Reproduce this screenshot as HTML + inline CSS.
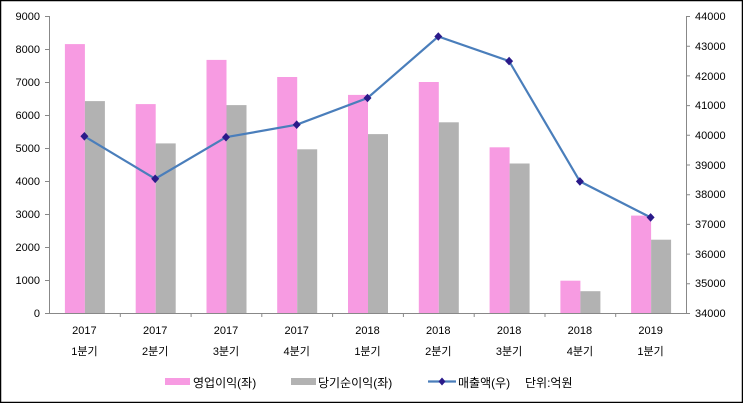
<!DOCTYPE html><html><head><meta charset="utf-8"><style>body{margin:0;background:#fff}svg{display:block}text{font-family:"Liberation Sans","Noto Sans CJK KR",sans-serif;font-size:11px;fill:#000}</style></head><body>
<svg width="743" height="403" xmlns="http://www.w3.org/2000/svg">
<rect x="0.5" y="0.5" width="742" height="402" fill="#fff" stroke="#000" stroke-width="1.5"/>
<g fill="#f79be2">
<rect x="64.9" y="44.1" width="20" height="268.9"/><rect x="135.7" y="104.1" width="20" height="208.9"/><rect x="206.5" y="59.9" width="20" height="253.1"/><rect x="277.2" y="77" width="20" height="236"/><rect x="348" y="94.9" width="20" height="218.1"/><rect x="418.8" y="82" width="20" height="231"/><rect x="489.6" y="147.3" width="20" height="165.7"/><rect x="560.4" y="280.7" width="20" height="32.3"/><rect x="631.1" y="215.6" width="20" height="97.4"/></g>
<g fill="#b2b2b2">
<rect x="84.9" y="101.1" width="20" height="211.9"/><rect x="155.7" y="143.4" width="20" height="169.6"/><rect x="226.5" y="105.1" width="20" height="207.9"/><rect x="297.2" y="149.3" width="20" height="163.7"/><rect x="368" y="134.1" width="20" height="178.9"/><rect x="438.8" y="122.3" width="20" height="190.7"/><rect x="509.6" y="163.5" width="20" height="149.5"/><rect x="580.4" y="291.2" width="20" height="21.8"/><rect x="651.1" y="239.7" width="20" height="73.3"/></g>
<g stroke="#888" stroke-width="1" fill="none">
<path d="M49.5 16V313.5H686.5V16"/>
<path d="M45 16.5h4M45 49.5h4M45 82.5h4M45 115.5h4M45 148.5h4M45 181.5h4M45 214.5h4M45 247.5h4M45 280.5h4M45 313.5h4"/>
<path d="M686 16.5h4M686 46.2h4M686 75.9h4M686 105.6h4M686 135.3h4M686 165h4M686 194.7h4M686 224.4h4M686 254.1h4M686 283.8h4M686 313.5h4"/>
<path d="M120.3 313v4M191.1 313v4M261.8 313v4M332.6 313v4M403.4 313v4M474.2 313v4M545 313v4M615.7 313v4"/>
</g>
<g text-anchor="end">
<text x="40" y="20">9000</text><text x="40" y="53">8000</text><text x="40" y="86">7000</text><text x="40" y="119">6000</text><text x="40" y="152">5000</text><text x="40" y="185">4000</text><text x="40" y="218">3000</text><text x="40" y="251">2000</text><text x="40" y="284">1000</text><text x="40" y="317">0</text></g>
<g text-anchor="start">
<text x="695" y="20">44000</text><text x="695" y="50">43000</text><text x="695" y="80">42000</text><text x="695" y="109">41000</text><text x="695" y="139">40000</text><text x="695" y="169">39000</text><text x="695" y="198">38000</text><text x="695" y="228">37000</text><text x="695" y="258">36000</text><text x="695" y="287">35000</text><text x="695" y="317">34000</text></g>
<g text-anchor="middle" style="font-size:12px">
<text x="84.4" y="334">2017</text><text x="155.2" y="334">2017</text><text x="226" y="334">2017</text><text x="296.7" y="334">2017</text><text x="367.5" y="334">2018</text><text x="438.3" y="334">2018</text><text x="509.1" y="334">2018</text><text x="579.9" y="334">2018</text><text x="650.6" y="334">2019</text>
<text x="84.4" y="355">1분기</text><text x="155.2" y="355">2분기</text><text x="226" y="355">3분기</text><text x="296.7" y="355">4분기</text><text x="367.5" y="355">1분기</text><text x="438.3" y="355">2분기</text><text x="509.1" y="355">3분기</text><text x="579.9" y="355">4분기</text><text x="650.6" y="355">1분기</text></g>
<polyline points="84.4,136.3 155.2,178.8 226,137.2 296.7,124.7 367.5,98 438.3,36.5 509.1,61.1 579.9,181.4 650.6,217.4" fill="none" stroke="#4a7ebb" stroke-width="2.2"/>
<g fill="#2a1a8a">
<path d="M84.4 132l4 4.3-4 4.3-4-4.3z"/><path d="M155.2 174.5l4 4.3-4 4.3-4-4.3z"/><path d="M226 132.9l4 4.3-4 4.3-4-4.3z"/><path d="M296.7 120.4l4 4.3-4 4.3-4-4.3z"/><path d="M367.5 93.7l4 4.3-4 4.3-4-4.3z"/><path d="M438.3 32.2l4 4.3-4 4.3-4-4.3z"/><path d="M509.1 56.8l4 4.3-4 4.3-4-4.3z"/><path d="M579.9 177.1l4 4.3-4 4.3-4-4.3z"/><path d="M650.6 213.1l4 4.3-4 4.3-4-4.3z"/></g>
<rect x="165" y="378" width="25" height="7" fill="#f79be2"/>
<text x="193" y="387" style="font-size:12px">영업이익(좌)</text>
<rect x="291" y="378" width="25" height="7" fill="#b2b2b2"/>
<text x="318" y="387" style="font-size:12px">당기순이익(좌)</text>
<line x1="428" y1="381.5" x2="456" y2="381.5" stroke="#4a7ebb" stroke-width="2.2"/>
<path d="M442 377.5l3.5 4-3.5 4-3.5-4z" fill="#2a1a8a"/>
<text x="458" y="387" style="font-size:12px">매출액(우)</text>
<text x="525" y="387" style="font-size:12px">단위:억원</text>
</svg></body></html>
